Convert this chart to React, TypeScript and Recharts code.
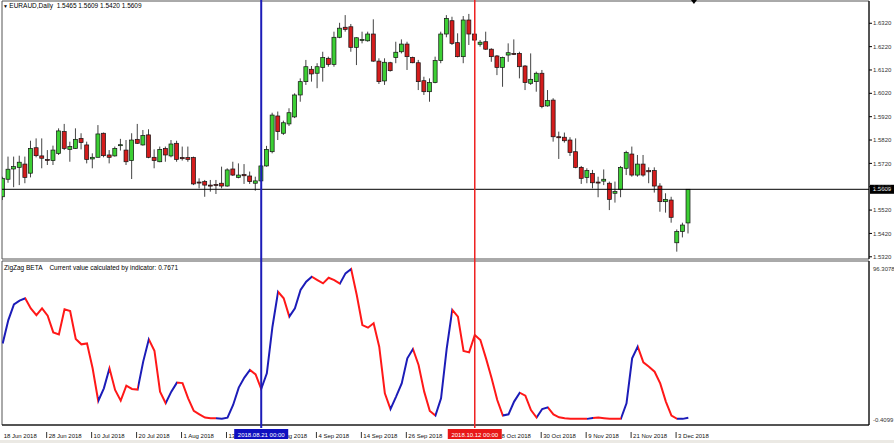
import { ComposedChart, Bar, Line, XAxis, YAxis, ReferenceLine, ReferenceArea, ReferenceDot } from 'recharts';

// EURAUD daily, 18 Jun 2018 .. 5 Dec 2018 (one entry per trading day)
const opens = [
  1.5577, 1.5652, 1.5696, 1.5703, 1.5717, 1.5678, 1.5787, 1.5752, 1.5737, 1.5732,
  1.5763, 1.5856, 1.5780, 1.5784, 1.5827, 1.5799, 1.5739, 1.5746, 1.5849, 1.5756,
  1.5752, 1.5799, 1.5777, 1.5732, 1.5823, 1.5799, 1.5842, 1.5746, 1.5727, 1.5784,
  1.5752, 1.5806, 1.5745, 1.5745, 1.5745, 1.5640, 1.5642, 1.5627, 1.5630, 1.5635,
  1.5623, 1.5696, 1.5660, 1.5672, 1.5666, 1.5635, 1.5645, 1.5709, 1.5770, 1.5923,
  1.5849, 1.5889, 1.5919, 1.6013, 1.6070, 1.6123, 1.6106, 1.6131, 1.6170, 1.6144,
  1.6260, 1.6303, 1.6305, 1.6217, 1.6248, 1.6245, 1.6274, 1.6158, 1.6073, 1.6151,
  1.6173, 1.6198, 1.6231, 1.6174, 1.6151, 1.6074, 1.6027, 1.6066, 1.6160, 1.6274,
  1.6331, 1.6237, 1.6177, 1.6334, 1.6274, 1.6230, 1.6241, 1.6209, 1.6180, 1.6131,
  1.6184, 1.6191, 1.6191, 1.6137, 1.6063, 1.6070, 1.6106, 1.5966, 1.5991, 1.5834,
  1.5832, 1.5820, 1.5770, 1.5703, 1.5660, 1.5677, 1.5640, 1.5644, 1.5635, 1.5592,
  1.5609, 1.5699, 1.5760, 1.5670, 1.5717, 1.5689, 1.5689, 1.5623, 1.5556, 1.5563,
  1.5380, 1.5428, 1.5465,
];
const highs = [
  1.5663, 1.5749, 1.5749, 1.5753, 1.5749, 1.5817, 1.5827, 1.5827, 1.5777, 1.5796,
  1.5870, 1.5889, 1.5813, 1.5870, 1.5849, 1.5813, 1.5763, 1.5884, 1.5852, 1.5777,
  1.5792, 1.5825, 1.5820, 1.5849, 1.5889, 1.5863, 1.5866, 1.5780, 1.5792, 1.5792,
  1.5820, 1.5817, 1.5792, 1.5792, 1.5749, 1.5656, 1.5649, 1.5649, 1.5649, 1.5706,
  1.5699, 1.5727, 1.5720, 1.5717, 1.5685, 1.5663, 1.5713, 1.5795, 1.5937, 1.5942,
  1.5903, 1.5956, 1.6020, 1.6084, 1.6163, 1.6137, 1.6149, 1.6198, 1.6177, 1.6284,
  1.6322, 1.6355, 1.6317, 1.6260, 1.6284, 1.6284, 1.6337, 1.6170, 1.6170, 1.6155,
  1.6241, 1.6251, 1.6241, 1.6177, 1.6163, 1.6091, 1.6084, 1.6177, 1.6284, 1.6355,
  1.6348, 1.6277, 1.6351, 1.6360, 1.6291, 1.6248, 1.6284, 1.6213, 1.6184, 1.6177,
  1.6234, 1.6251, 1.6198, 1.6141, 1.6191, 1.6113, 1.6120, 1.6034, 1.5999, 1.5856,
  1.5852, 1.5832, 1.5827, 1.5709, 1.5699, 1.5692, 1.5663, 1.5694, 1.5642, 1.5642,
  1.5709, 1.5774, 1.5792, 1.5756, 1.5756, 1.5703, 1.5703, 1.5635, 1.5592, 1.5577,
  1.5437, 1.5466, 1.5609,
];
const lows = [
  1.5563, 1.5637, 1.5618, 1.5627, 1.5635, 1.5660, 1.5746, 1.5699, 1.5713, 1.5713,
  1.5756, 1.5777, 1.5727, 1.5782, 1.5780, 1.5720, 1.5699, 1.5746, 1.5746, 1.5720,
  1.5749, 1.5775, 1.5713, 1.5653, 1.5803, 1.5796, 1.5742, 1.5699, 1.5725, 1.5727,
  1.5746, 1.5727, 1.5732, 1.5727, 1.5627, 1.5613, 1.5577, 1.5599, 1.5589, 1.5613,
  1.5620, 1.5666, 1.5656, 1.5632, 1.5632, 1.5603, 1.5642, 1.5706, 1.5763, 1.5820,
  1.5842, 1.5880, 1.5914, 1.5984, 1.6056, 1.6070, 1.6042, 1.6070, 1.6134, 1.6134,
  1.6256, 1.6284, 1.6198, 1.6141, 1.6234, 1.6241, 1.6155, 1.6060, 1.6056, 1.6113,
  1.6149, 1.6191, 1.6120, 1.6149, 1.6034, 1.6013, 1.5984, 1.6063, 1.6149, 1.6260,
  1.6227, 1.6174, 1.6149, 1.6227, 1.6245, 1.6220, 1.6206, 1.6155, 1.6098, 1.6048,
  1.6155, 1.6184, 1.6084, 1.6034, 1.6056, 1.6027, 1.5956, 1.5963, 1.5813, 1.5739,
  1.5809, 1.5752, 1.5699, 1.5632, 1.5635, 1.5613, 1.5575, 1.5627, 1.5520, 1.5552,
  1.5575, 1.5670, 1.5663, 1.5663, 1.5663, 1.5635, 1.5595, 1.5513, 1.5509, 1.5466,
  1.5342, 1.5403, 1.5420,
];
const closes = [
  1.5656, 1.5695, 1.5706, 1.5725, 1.5660, 1.5784, 1.5753, 1.5742, 1.5733, 1.5777,
  1.5859, 1.5784, 1.5792, 1.5823, 1.5809, 1.5737, 1.5746, 1.5846, 1.5753, 1.5746,
  1.5784, 1.5800, 1.5727, 1.5820, 1.5806, 1.5839, 1.5746, 1.5732, 1.5780, 1.5756,
  1.5803, 1.5737, 1.5740, 1.5737, 1.5632, 1.5637, 1.5627, 1.5623, 1.5626, 1.5623,
  1.5692, 1.5670, 1.5670, 1.5667, 1.5642, 1.5645, 1.5709, 1.5780, 1.5927, 1.5856,
  1.5894, 1.5937, 1.6013, 1.6070, 1.6134, 1.6103, 1.6134, 1.6173, 1.6144, 1.6260,
  1.6299, 1.6294, 1.6217, 1.6258, 1.6251, 1.6274, 1.6158, 1.6070, 1.6153, 1.6117,
  1.6196, 1.6231, 1.6177, 1.6151, 1.6070, 1.6027, 1.6066, 1.6160, 1.6274, 1.6341,
  1.6234, 1.6177, 1.6334, 1.6274, 1.6248, 1.6239, 1.6209, 1.6177, 1.6131, 1.6174,
  1.6194, 1.6188, 1.6134, 1.6066, 1.6080, 1.6106, 1.5963, 1.5989, 1.5834, 1.5830,
  1.5817, 1.5767, 1.5703, 1.5656, 1.5689, 1.5637, 1.5637, 1.5652, 1.5566, 1.5599,
  1.5703, 1.5766, 1.5670, 1.5717, 1.5670, 1.5684, 1.5623, 1.5556, 1.5566, 1.5489,
  1.5428, 1.5456, 1.5609,
];

// ZigZag BETA indicator, one value per bar
const zigzag = [
  48.5, 63.5, 73.6, 76.0, 77.5, 71.0, 66.7, 71.0, 66.3, 55.6,
  54.3, 70.4, 69.3, 51.3, 47.9, 48.5, 32.5, 11.5, 19.6, 32.5,
  18.6, 11.7, 21.3, 19.2, 18.8, 36.8, 51.1, 43.8, 17.5, 10.0,
  17.5, 23.3, 23.0, 13.2, 5.1, 2.9, 0.8, 0.4, 0.4, 0.1,
  0.8, 8.9, 20.1, 26.5, 31.4, 28.6, 19.2, 29.3, 59.2, 81.7,
  77.5, 65.7, 71.0, 82.8, 88.2, 91.4, 89.2, 87.1, 90.7, 89.2,
  86.9, 93.5, 96.3, 79.6, 60.3, 58.6, 61.4, 46.4, 16.4, 6.3,
  14.3, 22.8, 38.9, 44.9, 34.6, 17.5, 5.1, 2.1, 13.2, 45.0,
  70.0, 65.7, 43.6, 42.7, 53.9, 50.7, 38.9, 26.1, 12.1, 2.1,
  2.9, 11.1, 16.8, 14.9, 5.7, 0.8, 6.3, 7.4, 2.9, 1.0,
  0.4, 0.0, 0.0, 0.0, 0.0, 0.6, 0.8, 0.4, 0.0, 0.0,
  0.0, 10.0, 38.9, 46.4, 36.3, 33.5, 30.3, 22.8, 11.1, 2.1,
  0.0, 0.0, 0.77,
];
// bar ranges [from, to] where the zigzag leg is drawn blue (up leg); the rest is red
const zzUpLegs = [
  [0, 4], [17, 19], [24, 26], [29, 31], [38, 44], [46, 49], [51, 55], [60, 62],
  [69, 73], [77, 80], [89, 92], [95, 97], [104, 105], [110, 113], [120, 122],
];

const tickBars = [0, 8, 16, 24, 32, 40, 48, 56, 64, 72, 80, 88, 96, 104, 112, 120];
const tickLabels = [
  '18 Jun 2018', '28 Jun 2018', '10 Jul 2018', '20 Jul 2018', '1 Aug 2018', '13 Aug 2018',
  '23 Aug 2018', '4 Sep 2018', '14 Sep 2018', '26 Sep 2018', '8 Oct 2018', '18 Oct 2018',
  '30 Oct 2018', '9 Nov 2018', '21 Nov 2018', '3 Dec 2018',
];
const priceTicks = [1.532, 1.542, 1.552, 1.562, 1.572, 1.582, 1.592, 1.602, 1.612, 1.622, 1.632];
const zzTicks = [-0.4099, 96.3078];
const zzTickText = ['-0.4099', '96.3078'];

const lastPrice = 1.5609;
const markerBars = [46, 84];
const markerText = ['2018.08.21 00:00', '2018.10.12 00:00'];

const X_DOMAIN = [-0.125, 154.15];
const PRICE_DOMAIN = [1.53105, 1.64154];
const ZZ_DOMAIN = [-3.945, 101.46];

const FONT = '"Liberation Sans", Arial, sans-serif';
const UP = '#3ccf34';
const DOWN = '#d41c1c';
const BLUE = '#1c1cb8';
const RED = '#ee2020';

const data = opens.map((o, i) => ({
  i,
  open: o,
  high: highs[i],
  low: lows[i],
  close: closes[i],
  zz: zigzag[i],
}));

const Candle = (props: any) => {
  const { x, y, width, height, payload } = props;
  const { open, close, high, low } = payload;
  const cx = x + width / 2;
  const span = high - low || 1e-9;
  const py = (p: number) => y + ((high - p) / span) * height;
  const top = py(Math.max(open, close));
  const bh = Math.max(1, py(Math.min(open, close)) - top);
  return (
    <g>
      <line x1={cx} x2={cx} y1={y} y2={y + height} stroke="#444" strokeWidth={1} />
      <rect x={cx - 2} y={top} width={4} height={bh} fill={close >= open ? UP : DOWN} stroke="#111" strokeWidth={0.7} />
    </g>
  );
};

const DateTick = (props: any) => {
  const { x, y, payload } = props;
  const label = tickLabels[tickBars.indexOf(payload.value)];
  return (
    <g>
      {payload.value > 0 && <line x1={x - 1} x2={x - 1} y1={y - 1} y2={y + 5} stroke="#333" />}
      <text x={x + 1} y={y + 5} fontSize={6} fontFamily={FONT} fill="#111">{label}</text>
    </g>
  );
};

const isUp = (k: number) => zzUpLegs.some(([a, b]) => k >= a && k < b);

export default function App() {
  const n = zigzag.length - 1;
  const stops: any[] = [];
  for (let k = 0; k < n; k++) {
    const c = isUp(k) ? BLUE : '#ff1818';
    stops.push(<stop key={`a${k}`} offset={k / n} stopColor={c} />);
    stops.push(<stop key={`b${k}`} offset={(k + 1) / n} stopColor={c} />);
  }

  return (
    <div style={{ position: 'absolute', left: 0, top: 0, width: 894, height: 443, background: '#fff', fontFamily: FONT }}>
      {/* price panel */}
      <div style={{ position: 'absolute', left: 0, top: 0 }}>
        <ComposedChart width={894} height={260} data={data} margin={{ top: 1, right: 0, bottom: 1, left: 2 }}>
          <XAxis dataKey="i" type="number" domain={X_DOMAIN} allowDataOverflow hide />
          <YAxis
            orientation="right"
            width={25}
            type="number"
            domain={PRICE_DOMAIN}
            allowDataOverflow
            ticks={priceTicks}
            interval={0}
            tickFormatter={(v: number) => v.toFixed(4)}
            tick={{ fontSize: 6, fill: '#333', fontFamily: FONT }}
            tickSize={3}
            tickMargin={1}
            axisLine={{ stroke: '#000' }}
            tickLine={{ stroke: '#000' }}
          />
          <ReferenceArea x1={X_DOMAIN[0]} x2={X_DOMAIN[1]} y1={PRICE_DOMAIN[0]} y2={PRICE_DOMAIN[1]} fill="none" stroke="#555" />
          <Bar dataKey={(d: any) => [d.low, d.high]} barSize={5} shape={Candle} isAnimationActive={false} />
          <ReferenceLine
            y={lastPrice}
            stroke="#000"
            label={(p: any) => {
              const vb = p.viewBox;
              return (
                <g>
                  <rect x={vb.x + vb.width + 1} y={vb.y - 4.5} width={24} height={9} fill="#000" />
                  <text x={vb.x + vb.width + 13} y={vb.y + 2.2} fontSize={6} fill="#fff" textAnchor="middle" fontFamily={FONT}>
                    {lastPrice.toFixed(4)}
                  </text>
                </g>
              );
            }}
          />
        </ComposedChart>
      </div>

      {/* indicator panel with date axis */}
      <div style={{ position: 'absolute', left: 0, top: 260 }}>
        <ComposedChart width={894} height={183} data={data} margin={{ top: 1, right: 0, bottom: 0, left: 2 }}>
          <defs>
            <linearGradient id="zzGrad" x1="0" y1="0" x2="1" y2="0">
              {stops}
            </linearGradient>
          </defs>
          <XAxis
            dataKey="i"
            type="number"
            domain={X_DOMAIN}
            allowDataOverflow
            ticks={tickBars}
            interval={0}
            height={18}
            axisLine={{ stroke: '#000' }}
            tickLine={false}
            tick={<DateTick />}
          />
          <YAxis
            orientation="right"
            width={25}
            type="number"
            domain={ZZ_DOMAIN}
            allowDataOverflow
            ticks={zzTicks}
            interval={0}
            tickFormatter={(v: number) => zzTickText[zzTicks.indexOf(v)]}
            tick={{ fontSize: 6, fill: '#333', fontFamily: FONT }}
            tickSize={3}
            tickMargin={1}
            tickLine={false}
            axisLine={{ stroke: '#000' }}
          />
          <ReferenceArea x1={X_DOMAIN[0]} x2={X_DOMAIN[1]} y1={ZZ_DOMAIN[0]} y2={ZZ_DOMAIN[1]} fill="none" stroke="#555" />
          <Line dataKey="zz" type="linear" stroke="url(#zzGrad)" strokeWidth={2} dot={false} isAnimationActive={false} />
        </ComposedChart>
      </div>

      {/* vertical markers spanning both panels */}
      <div style={{ position: 'absolute', left: 0, top: 0, pointerEvents: 'none' }}>
        <ComposedChart width={894} height={443} data={data} margin={{ top: 0, right: 25, bottom: 15, left: 2 }}>
          <XAxis dataKey="i" type="number" domain={X_DOMAIN} allowDataOverflow hide />
          <YAxis type="number" domain={[0, 1]} allowDataOverflow hide />
          {markerBars.map((b, k) => (
            <ReferenceLine
              key={b}
              x={b}
              stroke={k === 0 ? BLUE : RED}
              strokeWidth={k === 0 ? 2 : 1.5}
              label={(p: any) => {
                const vb = p.viewBox;
                return (
                  <g>
                    <rect x={vb.x - 27} y={vb.y + vb.height + 1} width={54} height={10} fill={k === 0 ? '#1010c0' : '#e81818'} />
                    <text x={vb.x} y={vb.y + vb.height + 8.5} fontSize={6} fill="#fff" textAnchor="middle" fontFamily={FONT}>
                      {markerText[k]}
                    </text>
                  </g>
                );
              }}
            />
          ))}
          <ReferenceDot
            x={123}
            y={1}
            r={3}
            shape={(p: any) => (
              <polygon points={`${p.cx - 3},${p.cy} ${p.cx + 3},${p.cy} ${p.cx},${p.cy + 4}`} fill="#000" />
            )}
          />
        </ComposedChart>
      </div>

      <div style={{ position: 'absolute', left: 3, top: 2, fontSize: 6.5, lineHeight: '8px', color: '#000', whiteSpace: 'pre' }}>
        <span style={{ fontSize: 5 }}>▼ </span>EURAUD,Daily  1.5465 1.5609 1.5420 1.5609
      </div>
      <div style={{ position: 'absolute', left: 4, top: 264, fontSize: 6.5, lineHeight: '8px', color: '#000', whiteSpace: 'pre' }}>
        ZigZag BETA    Current value calculated by indicator: 0.7671
      </div>
      <div style={{ position: 'absolute', left: 0, top: 440, width: 894, height: 3, background: '#ebe9e4' }} />
    </div>
  );
}
